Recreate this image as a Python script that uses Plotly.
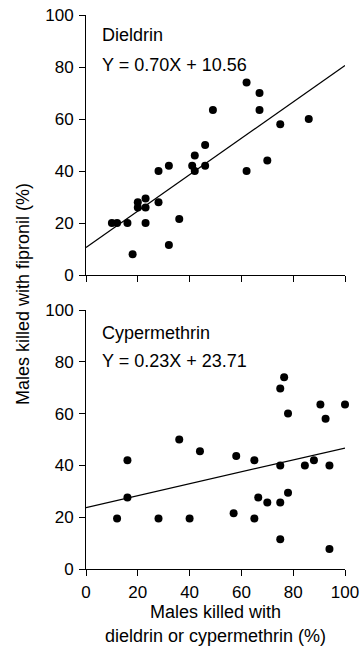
import plotly.graph_objects as go
from plotly.subplots import make_subplots

# Dieldrin panel data
dieldrin_x = [10, 12, 16, 18, 20, 20, 23, 23, 23, 28, 28, 32, 32, 36, 41, 42, 42, 46, 46, 49, 62, 62, 67, 67, 70, 75, 86]
dieldrin_y = [20, 20, 20, 8, 28, 26, 29.4, 26, 20, 40, 28, 42, 11.5, 21.5, 42, 40, 46, 50, 42, 63.5, 74, 40, 70, 63.5, 44, 58, 60]
dieldrin_fit = [0.70, 10.56]  # slope, intercept

# Cypermethrin panel data
cyper_x = [12, 16, 16, 28, 36, 40, 44, 57, 58, 65, 65, 66.5, 70, 75, 76.5, 75, 75, 75, 78, 78, 84.5, 88, 90.5, 92.5, 94, 94, 100]
cyper_y = [19.5, 42, 27.6, 19.5, 50, 19.5, 45.5, 21.5, 43.6, 42, 19.5, 27.6, 25.7, 69.7, 74, 40, 25.7, 11.5, 60, 29.4, 40, 42, 63.5, 58, 40, 7.7, 63.5]
cyper_fit = [0.23, 23.71]

tick_vals = [0, 20, 40, 60, 80, 100]
tick_text = ["0", "20", "40", "60", "80", "100"]
fit_x = [0, 100]

FONT = "Liberation Sans, Arial, sans-serif"

FIG_W, FIG_H = 363, 652
plot_top, plot_bottom = 15, 569
plot_left, plot_right = 86, 345
plot_h = plot_bottom - plot_top
plot_w = plot_right - plot_left


def px_x(page_x):
    return (page_x - plot_left) / plot_w


def px_y(page_y):
    return 1 - (page_y - plot_top) / plot_h


fig = make_subplots(rows=2, cols=1, vertical_spacing=0.0)

for row, xs, ys, fit in [(1, dieldrin_x, dieldrin_y, dieldrin_fit), (2, cyper_x, cyper_y, cyper_fit)]:
    fig.add_trace(go.Scatter(x=xs, y=ys, mode="markers",
                             marker=dict(color="black", size=8),
                             cliponaxis=False, showlegend=False), row=row, col=1)
    fig.add_trace(go.Scatter(x=fit_x, y=[fit[0] * v + fit[1] for v in fit_x], mode="lines",
                             line=dict(color="black", width=1.2),
                             showlegend=False), row=row, col=1)

axis_common = dict(range=[0, 100], showgrid=False, zeroline=False, showline=True,
                   linecolor="black", linewidth=1, ticks="outside", ticklen=6,
                   tickwidth=1, tickcolor="black", tickvals=tick_vals, ticktext=tick_text,
                   automargin=False, ticklabelstandoff=2, ticklabeloverflow="allow",
                   tickfont=dict(family=FONT, size=17, color="black"))

fig.update_xaxes(**axis_common)
fig.update_yaxes(**axis_common)
fig.update_xaxes(showticklabels=False, row=1, col=1)

fig.update_layout(
    yaxis=dict(domain=[(plot_bottom - 275) / plot_h, 1.0]),
    yaxis2=dict(domain=[0.0, (plot_bottom - 310) / plot_h]),
    width=FIG_W, height=FIG_H,
    margin=dict(l=plot_left, r=FIG_W - plot_right, t=plot_top, b=FIG_H - plot_bottom),
    plot_bgcolor="white", paper_bgcolor="white",
    font=dict(family=FONT, size=17, color="black"),
)

ann_font = dict(family=FONT, size=18, color="black")
annots = [
    ("Dieldrin", 100, 35),
    ("Y = 0.70X + 10.56", 100, 65),
    ("Cypermethrin", 100, 333),
    ("Y = 0.23X + 23.71", 100, 361),
]
for txt, px, py in annots:
    fig.add_annotation(x=px_x(px), y=px_y(py), xref="paper", yref="paper", text=txt,
                       showarrow=False, xanchor="left", yanchor="middle", font=ann_font)

# Axis titles as annotations
title_font = dict(family=FONT, size=18, color="black")
fig.add_annotation(x=px_x(23), y=px_y(294), xref="paper", yref="paper",
                   text="Males killed with fipronil (%)",
                   textangle=-90, showarrow=False, xanchor="center", yanchor="middle",
                   font=title_font)
fig.add_annotation(x=px_x(215), y=px_y(612), xref="paper", yref="paper",
                   text="Males killed with", showarrow=False,
                   xanchor="center", yanchor="middle", font=title_font)
fig.add_annotation(x=px_x(215), y=px_y(636), xref="paper", yref="paper",
                   text="dieldrin or cypermethrin (%)", showarrow=False,
                   xanchor="center", yanchor="middle", font=title_font)

# Remove the browser's default body margin so the figure fills the window exactly
fig.write_html("out.html",
               config={"displayModeBar": False},
               post_script="document.body.style.margin='0';document.body.style.overflow='hidden';")
